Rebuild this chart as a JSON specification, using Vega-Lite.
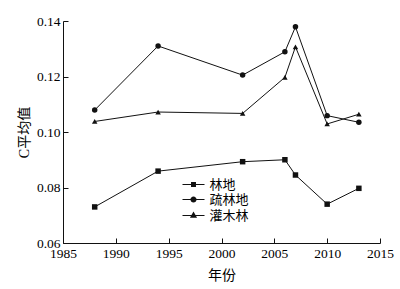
{
  "$schema": "https://vega.github.io/schema/vega-lite/v6.json",
  "autosize": {"type": "none"},
  "width": 317,
  "height": 222,
  "padding": {"left": 63, "top": 21, "right": 20, "bottom": 46},
  "background": "white",
  "config": {
    "view": {"stroke": null},
    "font": "Liberation Serif, Noto Sans CJK SC",
    "axis": {
      "grid": false,
      "domainColor": "#111111",
      "tickColor": "#111111",
      "labelColor": "#000000",
      "titleColor": "#000000",
      "labelFont": "Liberation Serif",
      "labelFontSize": 13.5,
      "titleFont": "Liberation Serif, Noto Sans CJK SC",
      "titleFontSize": 14,
      "titleFontWeight": "normal",
      "tickSize": -5,
      "labelPadding": 8
    }
  },
  "data": {
    "values": [
      {"year": 1988, "series": "林地", "value": 0.073},
      {"year": 1994, "series": "林地", "value": 0.0859},
      {"year": 2002, "series": "林地", "value": 0.0893},
      {"year": 2006, "series": "林地", "value": 0.0900},
      {"year": 2007, "series": "林地", "value": 0.0845},
      {"year": 2010, "series": "林地", "value": 0.0740},
      {"year": 2013, "series": "林地", "value": 0.0797},
      {"year": 1988, "series": "疏林地", "value": 0.1079},
      {"year": 1994, "series": "疏林地", "value": 0.1310},
      {"year": 2002, "series": "疏林地", "value": 0.1205},
      {"year": 2006, "series": "疏林地", "value": 0.1289},
      {"year": 2007, "series": "疏林地", "value": 0.1379},
      {"year": 2010, "series": "疏林地", "value": 0.1059},
      {"year": 2013, "series": "疏林地", "value": 0.1035},
      {"year": 1988, "series": "灌木林", "value": 0.1038},
      {"year": 1994, "series": "灌木林", "value": 0.1072},
      {"year": 2002, "series": "灌木林", "value": 0.1067},
      {"year": 2006, "series": "灌木林", "value": 0.1197},
      {"year": 2007, "series": "灌木林", "value": 0.1307},
      {"year": 2010, "series": "灌木林", "value": 0.1029},
      {"year": 2013, "series": "灌木林", "value": 0.1064}
    ]
  },
  "encoding": {
    "x": {
      "field": "year",
      "type": "quantitative",
      "scale": {"domain": [1985, 2015], "nice": false, "zero": false},
      "axis": {"values": [1985, 1990, 1995, 2000, 2005, 2010, 2015], "format": "d", "title": "年份", "titlePadding": 9, "labelFlush": false}
    },
    "y": {
      "field": "value",
      "type": "quantitative",
      "scale": {"domain": [0.06, 0.14], "nice": false, "zero": false},
      "axis": {"values": [0.06, 0.08, 0.10, 0.12, 0.14], "format": ".2f", "title": "C平均值", "titlePadding": 5, "labelFlush": false}
    }
  },
  "layer": [
    {
      "mark": {"type": "line", "color": "#111111", "strokeWidth": 1},
      "encoding": {"detail": {"field": "series"}}
    },
    {
      "mark": {"type": "point", "filled": true, "color": "#111111", "opacity": 1, "size": 30},
      "encoding": {
        "shape": {
          "field": "series",
          "type": "nominal",
          "scale": {"domain": ["林地", "疏林地", "灌木林"], "range": ["square", "circle", "triangle-up"]},
          "legend": null
        }
      }
    },
    {
      "transform": [{"filter": "datum.value < 0"}],
      "mark": {"type": "point", "filled": true, "color": "#111111", "opacity": 1, "size": 121},
      "encoding": {
        "shape": {
          "field": "series",
          "type": "nominal",
          "scale": {"domain": ["林地", "疏林地", "灌木林"], "range": ["M-2,-0.09H2V0.09H-2ZM-0.45,-0.45H0.45V0.45H-0.45Z", "M-2,-0.09H2V0.09H-2ZM0.55,0A0.55,0.55,0,1,1,-0.55,0A0.55,0.55,0,1,1,0.55,0Z", "M-2,-0.09H2V0.09H-2ZM0,-0.75L0.65,0.4H-0.65Z"]},
          "legend": {
            "title": null,
            "orient": "none",
            "legendX": 124,
            "legendY": 157,
            "padding": 0,
            "symbolSize": 121,
            "labelOffset": 9.5,
            "rowPadding": 1,
            "labelFont": "Noto Sans CJK SC",
            "labelFontSize": 13,
            "labelColor": "#000000"
          }
        }
      }
    }
  ],
  "resolve": {"scale": {"shape": "independent"}, "legend": {"shape": "independent"}}
}
